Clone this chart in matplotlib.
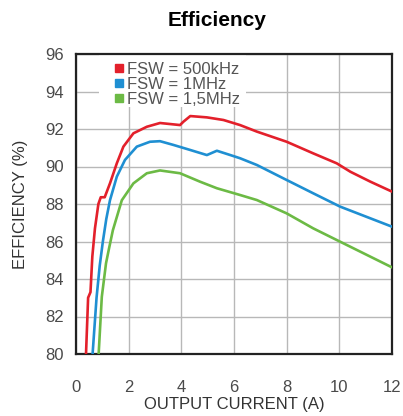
import numpy as np
import matplotlib
matplotlib.use("Agg")
import matplotlib.pyplot as plt
from matplotlib.lines import Line2D
from matplotlib.patches import Rectangle

plt.rcParams['font.family'] = ['Liberation Sans', 'DejaVu Sans']

# efficiency vs output current, read per switching frequency
i_500k = [0.38, 0.46, 0.55, 0.62, 0.72, 0.85, 0.94, 1.09, 1.29, 1.55, 1.80, 2.18, 2.69, 3.19,
          3.95, 4.08, 4.34, 4.97, 5.60, 6.23, 6.87, 8.00, 9.01, 9.90, 10.42, 11.18, 12.0]
e_500k = [80.0, 83.0, 83.3, 85.2, 86.7, 88.0, 88.36, 88.36, 89.1, 90.17, 91.06, 91.77, 92.12, 92.32,
          92.21, 92.39, 92.69, 92.62, 92.48, 92.21, 91.86, 91.32, 90.70, 90.17, 89.72, 89.19, 88.66]

i_1m = [0.63, 0.78, 0.90, 1.02, 1.15, 1.29, 1.55, 1.86, 2.31, 2.81, 3.19, 3.70, 4.34, 4.97,
        5.35, 5.86, 6.23, 6.87, 8.00, 9.01, 10.03, 12.0]
e_1m = [80.0, 83.0, 84.7, 86.0, 87.2, 88.2, 89.46, 90.35, 91.06, 91.32, 91.35, 91.15, 90.88, 90.61,
        90.84, 90.61, 90.44, 90.08, 89.28, 88.57, 87.86, 86.79]

i_1m5 = [0.86, 0.98, 1.14, 1.25, 1.40, 1.74, 2.18, 2.69, 3.19, 3.95, 4.71, 5.35, 6.23,
         6.87, 8.00, 9.01, 10.03, 12.0]
e_1m5 = [80.0, 83.05, 84.84, 85.6, 86.6, 88.2, 89.1, 89.64, 89.79, 89.64, 89.19, 88.84, 88.48,
         88.21, 87.50, 86.70, 85.99, 84.62]

labels = ["FSW = 500kHz", "FSW = 1MHz", "FSW = 1,5MHz"]
colors = ["#e3202b", "#1f8fd2", "#6cba45"]

fig = plt.figure(figsize=(4.03, 4.16), dpi=100)
ax = fig.add_axes([76/403, 1 - 354/416, 316/403, 300/416])

for xs, ys, c in zip([i_500k, i_1m, i_1m5], [e_500k, e_1m, e_1m5], colors):
    ax.plot(xs, ys, color=c, linewidth=1.9, solid_joinstyle='round', solid_capstyle='round', zorder=3)

ax.set_xlim(0, 12)
ax.set_ylim(80, 96)
ax.set_xticks(np.arange(0, 13, 2))
ax.set_yticks(np.arange(80, 97, 2))
ax.grid(True, color="#b8b8b8", linewidth=1.0)
ax.set_axisbelow(True)
ax.tick_params(length=0, labelsize=12, labelcolor="#4a4a4a")
ax.tick_params(axis='x', pad=19)
ax.tick_params(axis='y', pad=9)
for s in ax.spines.values():
    s.set_linewidth(1.6)
    s.set_color("#222222")

ax.set_xlabel("OUTPUT CURRENT (A)", fontsize=12, color="#333333", labelpad=1)
ax.set_ylabel("EFFICIENCY (%)", fontsize=12, color="#333333", labelpad=12)

# white panel behind the legend hides the grid there
ax.add_patch(Rectangle((0.073, 0.823), 0.465, 0.177, transform=ax.transAxes,
                       facecolor="white", edgecolor="none", zorder=1))

handles = [Line2D([], [], marker='s', linestyle='none', color=c, markersize=6) for c in colors]
leg = ax.legend(handles, labels, loc='upper left', bbox_to_anchor=(0.095, 1.0), frameon=False,
                fontsize=12, handlelength=0.6, handletextpad=0.15, labelspacing=0.0,
                borderaxespad=0.1)
for t in leg.get_texts():
    t.set_color("#555555")

fig.text(217/403, 1 - 20/416, "Efficiency", ha='center', va='center', fontsize=15, fontweight='bold')

fig.savefig("out.png", dpi=100)
